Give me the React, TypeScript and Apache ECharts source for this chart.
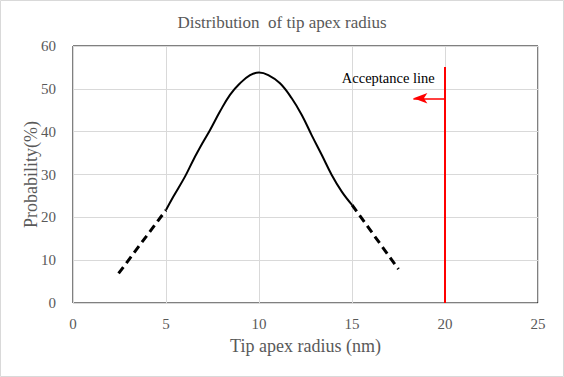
import React, { useEffect, useRef } from "react";
import * as echarts from "echarts";

const solidX = [5, 5.39, 6.02, 6.47, 7.01, 7.37, 7.9, 8.44, 8.98, 9.52, 10, 10.5, 11.13, 11.76, 12.3, 12.83, 13.37, 13.91, 14.45, 15];
const solidY = [21.7, 24.8, 29.5, 33.4, 37.7, 40.4, 44.7, 48.6, 51.3, 53.2, 53.8, 53.2, 51.3, 47.8, 43.9, 39.2, 34.6, 29.9, 26.0, 22.9];
const dashLeftX = [2.45, 5];
const dashLeftY = [6.9, 21.7];
const dashRightX = [15, 17.5];
const dashRightY = [22.9, 7.9];
const limitX = 20;
const limitTop = 55.1;
const arrowY = 47.8;
const arrowTipX = 18.3;
const labelPos = [19.45, 52.6];
const xTicks = [0, 5, 10, 15, 20, 25];
const yTicks = [0, 10, 20, 30, 40, 50, 60];

const zip = (a: number[], b: number[]) => a.map((v, i) => [v, b[i]]);

export default function App() {
  const ref = useRef<HTMLDivElement>(null);
  useEffect(() => {
    document.body.style.margin = "0";
    const chart = echarts.init(ref.current!, null, { renderer: "svg" });
    const font = "'Liberation Serif', 'Times New Roman', serif";
    chart.setOption({
      animation: false,
      textStyle: { fontFamily: font },
      title: {
        text: "Distribution  of tip apex radius",
        left: "center",
        top: 9,
        textStyle: { fontFamily: font, fontSize: 17, fontWeight: "normal", color: "#595959" },
      },
      graphic: [
        {
          type: "rect",
          shape: { x: 0.5, y: 0.5, width: 563, height: 376 },
          style: { fill: "none", stroke: "#d9d9d9", lineWidth: 1 },
          silent: true,
        },
      ],
      grid: {
        left: 73,
        right: 26,
        top: 46,
        bottom: 74,
        show: true,
        borderColor: "#000",
        borderWidth: 1,
        backgroundColor: "transparent",
      },
      xAxis: {
        type: "value",
        min: xTicks[0],
        max: xTicks[xTicks.length - 1],
        interval: 5,
        name: "Tip apex radius (nm)",
        nameLocation: "middle",
        nameGap: 34,
        nameTextStyle: { fontFamily: font, fontSize: 18, color: "#595959" },
        axisLine: { show: false },
        axisTick: { show: false },
        axisLabel: { fontFamily: font, fontSize: 15, color: "#595959", margin: 13 },
        splitLine: { show: true, lineStyle: { color: "#d9d9d9", width: 1 } },
      },
      yAxis: {
        type: "value",
        min: yTicks[0],
        max: yTicks[yTicks.length - 1],
        interval: 10,
        name: "Probability(%)",
        nameLocation: "middle",
        nameGap: 33,
        nameMoveOverlap: false,
        nameTextStyle: { fontFamily: font, fontSize: 18, color: "#595959" },
        axisLine: { show: false },
        axisTick: { show: false },
        axisLabel: { fontFamily: font, fontSize: 15, color: "#595959", margin: 17 },
        splitLine: { show: true, lineStyle: { color: "#d9d9d9", width: 1 } },
      },
      series: [
        {
          type: "line",
          data: zip(solidX, solidY),
          smooth: 0.4,
          showSymbol: false,
          lineStyle: { color: "#000", width: 2 },
          z: 3,
        },
        {
          type: "line",
          data: zip(dashLeftX, dashLeftY),
          showSymbol: false,
          lineStyle: { color: "#000", width: 3, type: [8, 5] },
        },
        {
          type: "line",
          data: zip(dashRightX, dashRightY),
          showSymbol: false,
          lineStyle: { color: "#000", width: 3, type: [8, 5] },
        },
        {
          type: "line",
          data: [
            [limitX, 0],
            [limitX, limitTop],
          ],
          showSymbol: false,
          lineStyle: { color: "#ff0000", width: 2 },
          markLine: {
            silent: true,
            symbol: ["none", "arrow"],
            symbolSize: [8, 14],
            label: { show: false },
            lineStyle: { color: "#ff0000", width: 1.5, type: "solid" },
            data: [[{ coord: [limitX, arrowY] }, { coord: [arrowTipX, arrowY] }]],
          },
          markPoint: {
            silent: true,
            symbol: "circle",
            symbolSize: 0,
            data: [{ coord: labelPos }],
            label: {
              show: true,
              position: "left",
              distance: 0,
              formatter: "Acceptance line",
              fontFamily: font,
              fontSize: 14.5,
              color: "#000",
            },
          },
        },
      ],
    });
    return () => chart.dispose();
  }, []);
  return <div ref={ref} style={{ width: 564, height: 377 }} />;
}
